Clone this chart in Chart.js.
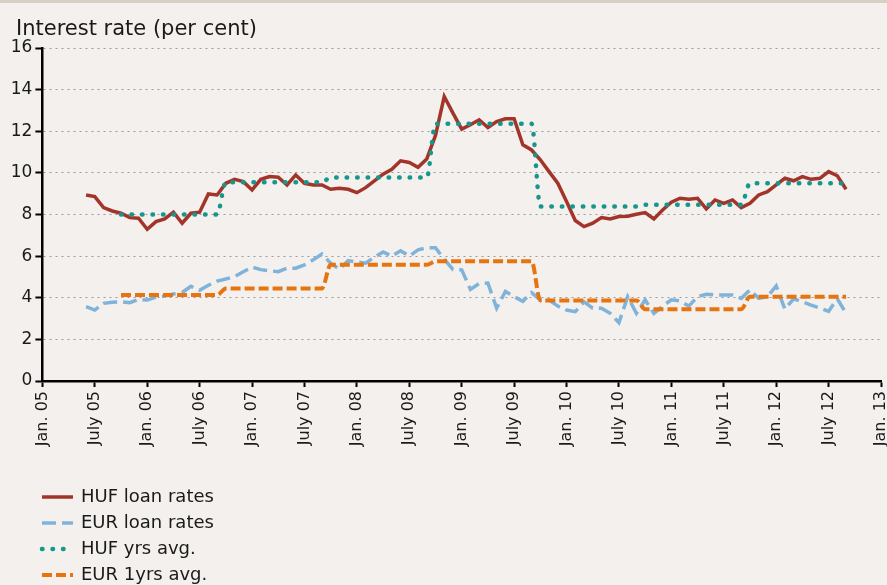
<!DOCTYPE html>
<html>
<head>
<meta charset="utf-8">
<script src="https://cdn.jsdelivr.net/npm/chart.js@4.4.0/dist/chart.umd.min.js"></script>
<style>
  html, body { margin: 0; padding: 0; background: #f3f0ed; }
  #wrap { position: relative; width: 887px; height: 585px; overflow: hidden; }
  #topband { position: absolute; left: 0; top: 0; width: 887px; height: 3px; background: #d8cfc3; }
  #title {
    position: absolute; left: 16px; top: 16px;
    font: 21px/25px "DejaVu Sans", sans-serif; color: #1a1a1a; white-space: nowrap;
  }
</style>
</head>
<body>
<div id="wrap">
  <canvas id="rates" width="887" height="585"></canvas>
  <div id="topband"></div>
  <div id="title">Interest rate (per cent)</div>
</div>
<script>
// x axis runs in months counted from Jan. 2005 (0) to Jan. 2013 (96)
const tickLabels = ['Jan. 05', 'July 05', 'Jan. 06', 'July 06', 'Jan. 07', 'July 07', 'Jan. 08', 'July 08',
    'Jan. 09', 'July 09', 'Jan. 10', 'July 10', 'Jan. 11', 'July 11', 'Jan. 12', 'July 12', 'Jan. 13'];

// monthly loan rates, first value = June 2005
const loanStart = 5;
const hufLoan = [
    8.94, 8.86, 8.33, 8.17, 8.06, 7.85, 7.82, 7.29, 7.66, 7.79,
    8.11, 7.58, 8.06, 8.11, 8.99, 8.94, 9.50, 9.69, 9.58, 9.18,
    9.69, 9.82, 9.79, 9.42, 9.90, 9.50, 9.42, 9.42, 9.21, 9.26,
    9.21, 9.05, 9.29, 9.62, 9.94, 10.17, 10.58, 10.50, 10.27, 10.67,
    11.80, 13.67, 12.87, 12.10, 12.31, 12.55, 12.18, 12.47, 12.60, 12.60,
    11.35, 11.10, 10.63, 10.06, 9.50, 8.62, 7.71, 7.42, 7.58, 7.85,
    7.79, 7.90, 7.92, 8.01, 8.09, 7.79, 8.22, 8.59, 8.78, 8.73,
    8.78, 8.27, 8.70, 8.54, 8.70, 8.33, 8.54, 8.94, 9.10, 9.42,
    9.74, 9.62, 9.82, 9.69, 9.74, 10.06, 9.86, 9.21
];
const eurLoan = [
    3.57, 3.41, 3.73, 3.78, 3.80, 3.76, 3.92, 3.89, 4.03, 4.08,
    4.18, 4.25, 4.55, 4.36, 4.60, 4.80, 4.90, 5.02, 5.25, 5.47,
    5.35, 5.30, 5.25, 5.42, 5.42, 5.58, 5.82, 6.10, 5.66, 5.37,
    5.78, 5.72, 5.66, 5.95, 6.20, 6.00, 6.26, 6.00, 6.30, 6.40,
    6.40, 5.85, 5.36, 5.34, 4.40, 4.68, 4.70, 3.50, 4.30, 4.05,
    3.83, 4.25, 3.89, 3.89, 3.60, 3.41, 3.33, 3.80, 3.50, 3.50,
    3.25, 2.80, 4.05, 3.25, 3.90, 3.25, 3.60, 3.90, 3.85, 3.60,
    4.05, 4.17, 4.13, 4.13, 4.13, 3.97, 4.38, 3.97, 4.05, 4.57,
    3.45, 3.95, 3.80, 3.65, 3.50, 3.35, 3.95, 3.25
];

// yearly averages, first value = Oct. 2005
const avgStart = 9;
const hufAvg = [
    8.00, 8.00, 8.00, 8.00, 8.00, 8.00, 8.00, 8.00, 8.00, 8.00, 8.00, 8.00,
    9.55, 9.55, 9.55, 9.55, 9.55, 9.55, 9.55, 9.55, 9.55, 9.55, 9.55, 9.55,
    9.78, 9.78, 9.78, 9.78, 9.78, 9.78, 9.78, 9.78, 9.78, 9.78, 9.78, 9.78,
    12.36, 12.36, 12.36, 12.36, 12.36, 12.36, 12.36, 12.36, 12.36, 12.36, 12.36, 12.36,
    8.38, 8.38, 8.38, 8.38, 8.38, 8.38, 8.38, 8.38, 8.38, 8.38, 8.38, 8.38,
    8.47, 8.47, 8.47, 8.47, 8.47, 8.47, 8.47, 8.47, 8.47, 8.47, 8.47, 8.47,
    9.50, 9.50, 9.50, 9.50, 9.50, 9.50, 9.50, 9.50, 9.50, 9.50, 9.50, 9.50
];
const eurAvg = [
    4.13, 4.13, 4.13, 4.13, 4.13, 4.13, 4.13, 4.13, 4.13, 4.13, 4.13, 4.13,
    4.45, 4.45, 4.45, 4.45, 4.45, 4.45, 4.45, 4.45, 4.45, 4.45, 4.45, 4.45,
    5.58, 5.58, 5.58, 5.58, 5.58, 5.58, 5.58, 5.58, 5.58, 5.58, 5.58, 5.58,
    5.75, 5.75, 5.75, 5.75, 5.75, 5.75, 5.75, 5.75, 5.75, 5.75, 5.75, 5.75,
    3.87, 3.87, 3.87, 3.87, 3.87, 3.87, 3.87, 3.87, 3.87, 3.87, 3.87, 3.87,
    3.45, 3.45, 3.45, 3.45, 3.45, 3.45, 3.45, 3.45, 3.45, 3.45, 3.45, 3.45,
    4.05, 4.05, 4.05, 4.05, 4.05, 4.05, 4.05, 4.05, 4.05, 4.05, 4.05, 4.05
];

const FONT = '"DejaVu Sans", sans-serif';

function toPoints(values, start) {
    return values.map((v, i) => ({ x: start + i, y: v }));
}

// vertical legend under the axis labels
const stackedLegend = {
    id: 'stackedLegend',
    afterDraw(chart) {
        const ctx = chart.ctx;
        chart.data.datasets.forEach((ds, i) => {
            const y = 497 + i * 26;
            ctx.save();
            ctx.strokeStyle = ds.borderColor;
            ctx.lineWidth = ds.borderWidth;
            ctx.lineCap = ds.borderCapStyle || 'butt';
            ctx.setLineDash(ds.borderDash || []);
            ctx.beginPath();
            ctx.moveTo(42, y);
            ctx.lineTo(73, y);
            ctx.stroke();
            ctx.setLineDash([]);
            ctx.fillStyle = '#1a1a1a';
            ctx.font = '18px ' + FONT;
            ctx.textBaseline = 'middle';
            ctx.fillText(ds.label, 81, y);
            ctx.restore();
        });
    }
};

new Chart(document.getElementById('rates'), {
    type: 'line',
    data: {
        datasets: [{
            label: 'HUF loan rates',
            data: toPoints(hufLoan, loanStart),
            borderColor: '#a3342a',
            borderWidth: 3.5,
            pointRadius: 0,
            tension: 0,
            order: 4
        }, {
            label: 'EUR loan rates',
            data: toPoints(eurLoan, loanStart),
            borderColor: '#80b3da',
            borderWidth: 3.5,
            borderDash: [14, 6],
            pointRadius: 0,
            tension: 0,
            order: 3
        }, {
            label: 'HUF yrs avg.',
            data: toPoints(hufAvg, avgStart),
            borderColor: '#17978b',
            borderWidth: 4.5,
            borderDash: [0.5, 10],
            borderCapStyle: 'round',
            pointRadius: 0,
            cubicInterpolationMode: 'monotone',
            order: 2
        }, {
            label: 'EUR 1yrs avg.',
            data: toPoints(eurAvg, avgStart),
            borderColor: '#e8740f',
            borderWidth: 4,
            borderDash: [10, 4],
            pointRadius: 0,
            cubicInterpolationMode: 'monotone',
            order: 1
        }]
    },
    options: {
        responsive: false,
        animation: false,
        devicePixelRatio: 1,
        layout: { padding: { top: 48, left: 0, right: 6, bottom: 0 } },
        plugins: {
            legend: { display: false },
            tooltip: { enabled: false }
        },
        scales: {
            x: {
                type: 'linear',
                min: 0,
                max: 96,
                ticks: {
                    stepSize: 6,
                    autoSkip: false,
                    maxRotation: 90,
                    minRotation: 90,
                    padding: 4,
                    color: '#1a1a1a',
                    font: { family: FONT, size: 16 },
                    callback: (v) => tickLabels[v / 6] ?? ''
                },
                grid: { drawOnChartArea: false, tickLength: 6, tickColor: '#000', tickWidth: 2 },
                border: { color: '#000', width: 2.5 },
                afterFit: (s) => { s.height = 204; s.paddingLeft = 0; s.paddingRight = 0; }
            },
            y: {
                min: 0,
                max: 16,
                ticks: {
                    stepSize: 2,
                    padding: 3,
                    color: '#1a1a1a',
                    font: { family: FONT, size: 17 }
                },
                grid: { color: '#9b9b9b', lineWidth: 1, tickColor: '#000', tickLength: 7, tickWidth: 2 },
                border: { color: '#000', width: 2.5, dash: [2, 4] },
                afterFit: (s) => { s.width = 42.4; s.paddingTop = 0; s.paddingBottom = 0; }
            }
        }
    },
    plugins: [stackedLegend]
});
</script>
</body>
</html>
